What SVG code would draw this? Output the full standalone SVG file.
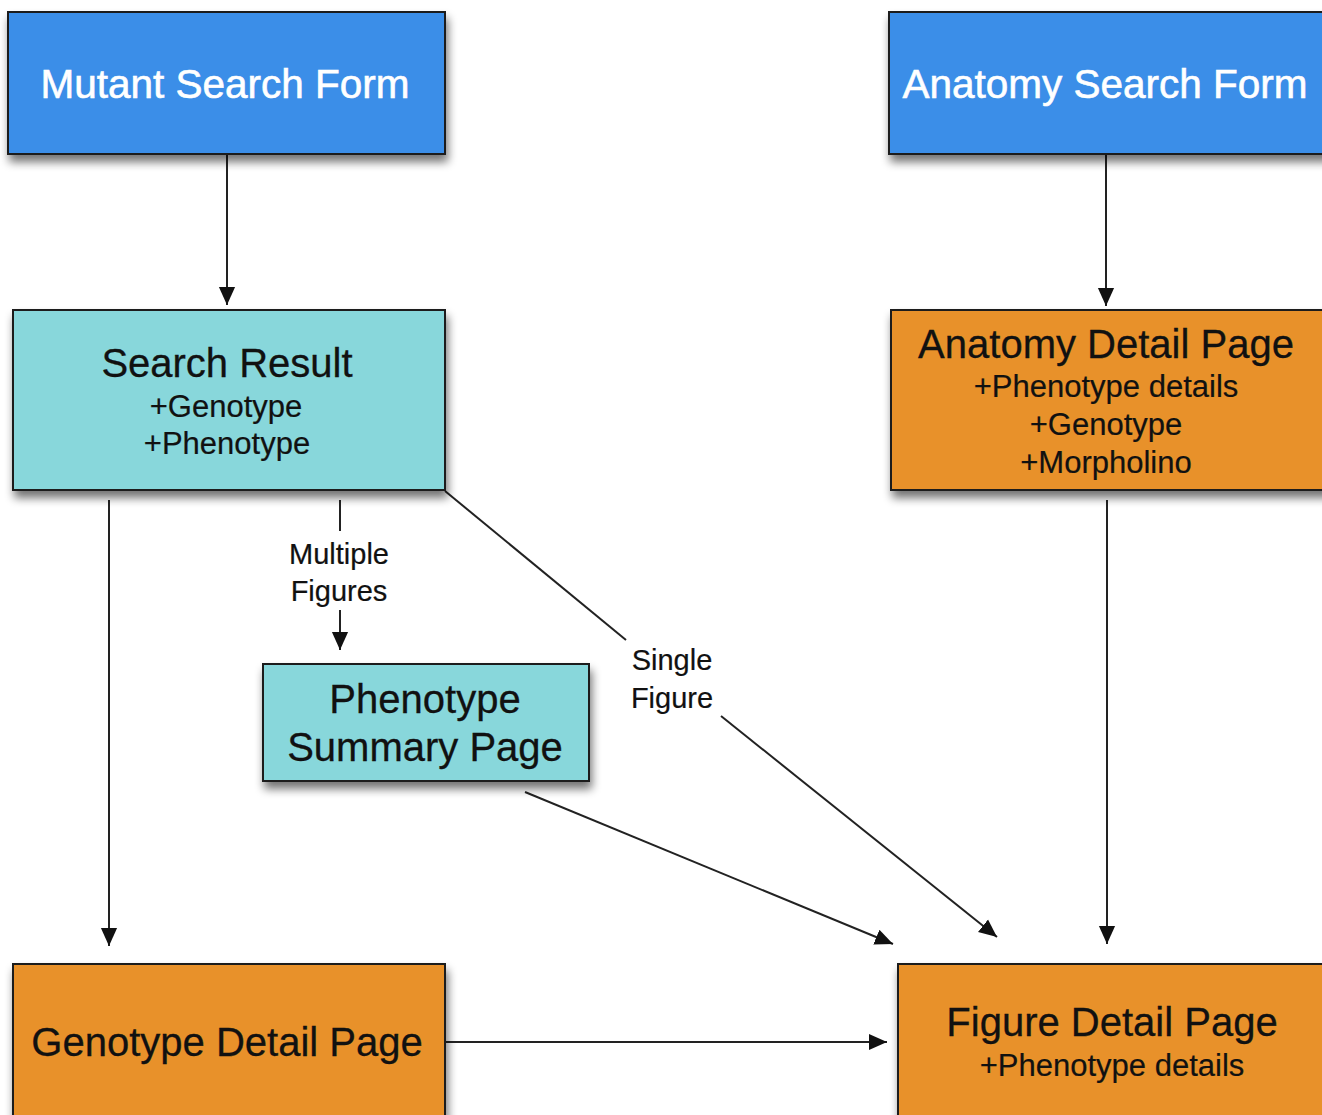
<svg xmlns="http://www.w3.org/2000/svg" width="1322" height="1115" viewBox="0 0 1322 1115">
<defs>
<filter id="sh" x="-10%" y="-10%" width="125%" height="135%">
<feGaussianBlur in="SourceAlpha" stdDeviation="5"/>
<feOffset dx="2" dy="7" result="b"/>
<feComponentTransfer><feFuncA type="linear" slope="0.55"/></feComponentTransfer>
<feMerge><feMergeNode/><feMergeNode in="SourceGraphic"/></feMerge>
</filter>
<marker id="ah" viewBox="0 0 10 10" refX="10" refY="5" markerWidth="18" markerHeight="18" markerUnits="userSpaceOnUse" orient="auto">
<path d="M0,0.5 L10,5 L0,9.5 Z" fill="#111"/>
</marker>
<style>
.box{stroke:#1e1a1a;stroke-width:2;filter:url(#sh)}
.blue{fill:#3a8ee8}
.teal{fill:#88d7db}
.orange{fill:#e8912b}
text{font-family:"Liberation Sans",Arial,sans-serif;text-anchor:middle}
.wt{fill:#fff;font-size:40.5px;stroke:#fff;stroke-width:0.6}
.t{fill:#111;font-size:40px;stroke:#111;stroke-width:0.3}
.s{fill:#111;font-size:31px;stroke:#111;stroke-width:0.2}
.l{fill:#111;font-size:29px;stroke:#111;stroke-width:0.2}
.c{stroke:#222;stroke-width:2;fill:none}
.ca{stroke:#222;stroke-width:2;fill:none;marker-end:url(#ah)}
</style>
</defs>
<rect width="1322" height="1115" fill="#fff"/>

<g id="connectors">
<line class="ca" x1="227" y1="155" x2="227" y2="305"/>
<line class="ca" x1="1106" y1="155" x2="1106" y2="306"/>
<line class="ca" x1="109" y1="500" x2="109" y2="946"/>
<line class="c" x1="340" y1="500" x2="340" y2="531"/>
<line class="ca" x1="340" y1="610" x2="340" y2="650"/>
<line class="c" x1="445" y1="491" x2="626" y2="640"/>
<line class="ca" x1="721" y1="716" x2="997" y2="937"/>
<line class="ca" x1="525" y1="792" x2="893" y2="944"/>
<line class="ca" x1="1107" y1="500" x2="1107" y2="944"/>
<line class="ca" x1="445" y1="1042" x2="887" y2="1042"/>
<text class="l" x="339" y="564">Multiple</text>
<text class="l" x="339" y="601">Figures</text>
<text class="l" x="672" y="670">Single</text>
<text class="l" x="672" y="708">Figure</text>
</g>

<g id="mutant-search-form">
<rect class="box blue" x="8" y="12" width="437" height="142"/>
<text class="wt" x="225" y="98">Mutant Search Form</text>
</g>

<g id="anatomy-search-form">
<rect class="box blue" x="889" y="12" width="445" height="142"/>
<text class="wt" x="1105" y="98">Anatomy Search Form</text>
</g>

<g id="search-result">
<rect class="box teal" x="13" y="310" width="432" height="180"/>
<text class="t" x="227" y="377">Search Result</text>
<text class="s" x="226" y="417">+Genotype</text>
<text class="s" x="227" y="454">+Phenotype</text>
</g>

<g id="anatomy-detail-page">
<rect class="box orange" x="891" y="310" width="440" height="180"/>
<text class="t" x="1106" y="358">Anatomy Detail Page</text>
<text class="s" x="1106" y="397">+Phenotype details</text>
<text class="s" x="1106" y="435">+Genotype</text>
<text class="s" x="1106" y="473">+Morpholino</text>
</g>

<g id="phenotype-summary-page">
<rect class="box teal" x="263" y="664" width="326" height="117"/>
<text class="t" x="425" y="713">Phenotype</text>
<text class="t" x="425" y="761">Summary Page</text>
</g>

<g id="genotype-detail-page">
<rect class="box orange" x="13" y="964" width="432" height="170"/>
<text class="t" x="227" y="1056">Genotype Detail Page</text>
</g>

<g id="figure-detail-page">
<rect class="box orange" x="898" y="964" width="440" height="170"/>
<text class="t" x="1112" y="1036">Figure Detail Page</text>
<text class="s" x="1112" y="1076">+Phenotype details</text>
</g>
</svg>
